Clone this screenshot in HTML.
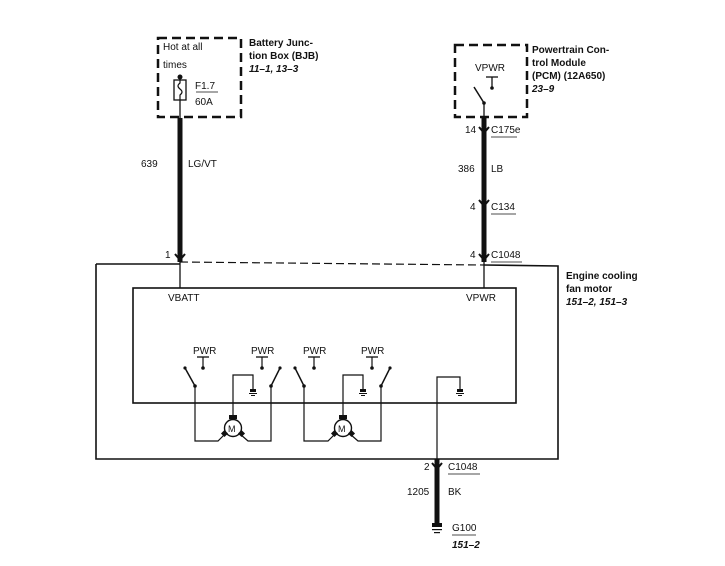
<!DOCTYPE html>
<html><head><meta charset="utf-8"><style>
html,body{margin:0;padding:0;background:#fff;}
svg{display:block;}
text{font-family:"Liberation Sans",sans-serif;font-size:10px;fill:#111;}
.b{font-weight:bold;}
.i{font-style:italic;font-weight:bold;}
</style></head><body>
<svg width="725" height="566" viewBox="0 0 725 566" xmlns="http://www.w3.org/2000/svg">
<g stroke="#111" fill="none">
<rect x="158" y="38" width="83" height="79" stroke-width="2.5" stroke-dasharray="9,5"/>
<rect x="455" y="45" width="72" height="72" stroke-width="2.5" stroke-dasharray="9,5"/>
<rect x="174" y="80" width="12" height="20" stroke-width="1.3"/>
<path d="M180 80 v3 q-4 3 0 6 q4 3 0 6 v5" stroke-width="1.2"/>
<line x1="180" y1="76" x2="180" y2="80" stroke-width="1.5"/>
<line x1="180" y1="100" x2="180" y2="118" stroke-width="1.3"/>
<line x1="196" y1="92" x2="218" y2="92" stroke-width="0.8"/>
<line x1="180" y1="118" x2="180" y2="262" stroke-width="5"/>
<line x1="180" y1="262" x2="180" y2="288" stroke-width="1.3"/>
<line x1="492" y1="77" x2="492" y2="88" stroke-width="1.3"/>
<line x1="486" y1="77" x2="498" y2="77" stroke-width="1.3"/>
<line x1="474" y1="87" x2="484" y2="103" stroke-width="1.5"/>
<line x1="484" y1="103" x2="484" y2="118" stroke-width="1.3"/>
<line x1="484" y1="118" x2="484" y2="262" stroke-width="5"/>
<line x1="484" y1="262" x2="484" y2="288" stroke-width="1.3"/>
<path d="M479 127 l5 6 l5 -6" stroke-width="2"/>
<path d="M479 200 l5 6 l5 -6" stroke-width="2"/>
<path d="M479 254 l5 6 l5 -6" stroke-width="2"/>
<path d="M175 254 l5 6 l5 -6" stroke-width="2"/>
<line x1="180" y1="262" x2="484" y2="265" stroke-width="1.2" stroke-dasharray="8,4"/>
<polyline points="96,264 180,264" stroke-width="1.6"/>
<polyline points="484,265 558,266 558,459 96,459 96,264" stroke-width="1.6"/>
<rect x="133" y="288" width="383" height="115" stroke-width="1.6"/>
<line x1="203" y1="357" x2="203" y2="368" stroke-width="1.2"/>
<line x1="197" y1="357" x2="209" y2="357" stroke-width="1.3"/>
<line x1="185" y1="368" x2="195" y2="386" stroke-width="1.5"/>
<polyline points="195,386 195,441 218,441 225,434" stroke-width="1.2"/>
<line x1="262" y1="357" x2="262" y2="368" stroke-width="1.2"/>
<line x1="256" y1="357" x2="268" y2="357" stroke-width="1.3"/>
<line x1="280" y1="368" x2="271" y2="386" stroke-width="1.5"/>
<polyline points="271,386 271,441 248,441 240,434" stroke-width="1.2"/>
<polyline points="233,418 233,375 253,375 253,390" stroke-width="1.2"/>
<circle cx="233" cy="428" r="8.5" stroke-width="1.4"/>
<line x1="314" y1="357" x2="314" y2="368" stroke-width="1.2"/>
<line x1="308" y1="357" x2="320" y2="357" stroke-width="1.3"/>
<line x1="295" y1="368" x2="304" y2="386" stroke-width="1.5"/>
<polyline points="304,386 304,441 328,441 335,434" stroke-width="1.2"/>
<line x1="372" y1="357" x2="372" y2="368" stroke-width="1.2"/>
<line x1="366" y1="357" x2="378" y2="357" stroke-width="1.3"/>
<line x1="390" y1="368" x2="381" y2="386" stroke-width="1.5"/>
<polyline points="381,386 381,441 358,441 350,434" stroke-width="1.2"/>
<polyline points="343,418 343,375 363,375 363,390" stroke-width="1.2"/>
<circle cx="343" cy="428" r="8.5" stroke-width="1.4"/>
<polyline points="437,459 437,377 460,377 460,390" stroke-width="1.2"/>
<line x1="437" y1="459" x2="437" y2="523" stroke-width="5"/>
<path d="M432 463 l5 6 l5 -6" stroke-width="2"/>
</g>
<g fill="#111">
<circle cx="180" cy="77" r="2.5"/>
<circle cx="492" cy="88" r="1.8"/><circle cx="484" cy="103" r="1.8"/>
<circle cx="203" cy="368" r="1.8"/><circle cx="262" cy="368" r="1.8"/>
<circle cx="314" cy="368" r="1.8"/><circle cx="372" cy="368" r="1.8"/>
<circle cx="195" cy="386" r="1.8"/><circle cx="271" cy="386" r="1.8"/>
<circle cx="304" cy="386" r="1.8"/><circle cx="381" cy="386" r="1.8"/>
<circle cx="185" cy="368" r="1.6"/><circle cx="280" cy="368" r="1.6"/>
<circle cx="295" cy="368" r="1.6"/><circle cx="390" cy="368" r="1.6"/>
<rect x="229" y="415" width="8" height="4"/><rect x="339" y="415" width="8" height="4"/>
<rect x="222" y="431" width="5" height="5" transform="rotate(45 224.5 433.5)"/>
<rect x="239" y="431" width="5" height="5" transform="rotate(45 241.5 433.5)"/>
<rect x="332" y="431" width="5" height="5" transform="rotate(45 334.5 433.5)"/>
<rect x="349" y="431" width="5" height="5" transform="rotate(45 351.5 433.5)"/>
<g id="gnd"><rect x="250" y="389" width="6" height="3"/><rect x="249" y="393" width="8" height="1"/><rect x="251" y="395" width="4" height="1"/></g>
<use href="#gnd" x="110"/>
<use href="#gnd" x="207"/>
<rect x="432" y="523" width="10" height="4"/><rect x="432" y="529" width="10" height="1.2"/><rect x="434" y="532" width="6" height="1.2"/>
</g>
<text x="163" y="50">Hot at all</text>
<text x="163" y="68">times</text>
<text x="195" y="89">F1.7</text>
<text x="195" y="105">60A</text>
<text class="b" x="249" y="46">Battery Junc-</text>
<text class="b" x="249" y="59">tion Box (BJB)</text>
<text class="i" x="249" y="72">11–1, 13–3</text>
<text x="475" y="71">VPWR</text>
<text class="b" x="532" y="53">Powertrain Con-</text>
<text class="b" x="532" y="66">trol Module</text>
<text class="b" x="532" y="79">(PCM) (12A650)</text>
<text class="i" x="532" y="92">23–9</text>
<text x="141" y="167">639</text><text x="188" y="167">LG/VT</text>
<text x="165" y="258">1</text>
<text x="465" y="133">14</text><text x="491" y="133">C175e</text>
<text x="458" y="172">386</text><text x="491" y="172">LB</text>
<text x="470" y="210">4</text><text x="491" y="210">C134</text>
<text x="470" y="258">4</text><text x="491" y="258">C1048</text>
<text x="168" y="301">VBATT</text>
<text x="466" y="301">VPWR</text>
<text class="b" x="566" y="279">Engine cooling</text>
<text class="b" x="566" y="292">fan motor</text>
<text class="i" x="566" y="305">151–2, 151–3</text>
<text x="193" y="354">PWR</text><text x="251" y="354">PWR</text>
<text x="303" y="354">PWR</text><text x="361" y="354">PWR</text>
<text x="228" y="432" style="font-size:9px">M</text>
<text x="338" y="432" style="font-size:9px">M</text>
<text x="424" y="470">2</text><text x="448" y="470">C1048</text>
<text x="407" y="495">1205</text><text x="448" y="495">BK</text>
<text x="452" y="531">G100</text>
<text class="i" x="452" y="548">151–2</text>
<g stroke="#111" stroke-width="0.8">
<line x1="491" y1="137" x2="517" y2="137"/><line x1="491" y1="214" x2="516" y2="214"/>
<line x1="491" y1="262" x2="522" y2="262"/><line x1="448" y1="474" x2="480" y2="474"/>
<line x1="452" y1="535" x2="476" y2="535"/>
</g>
</svg>
</body></html>
